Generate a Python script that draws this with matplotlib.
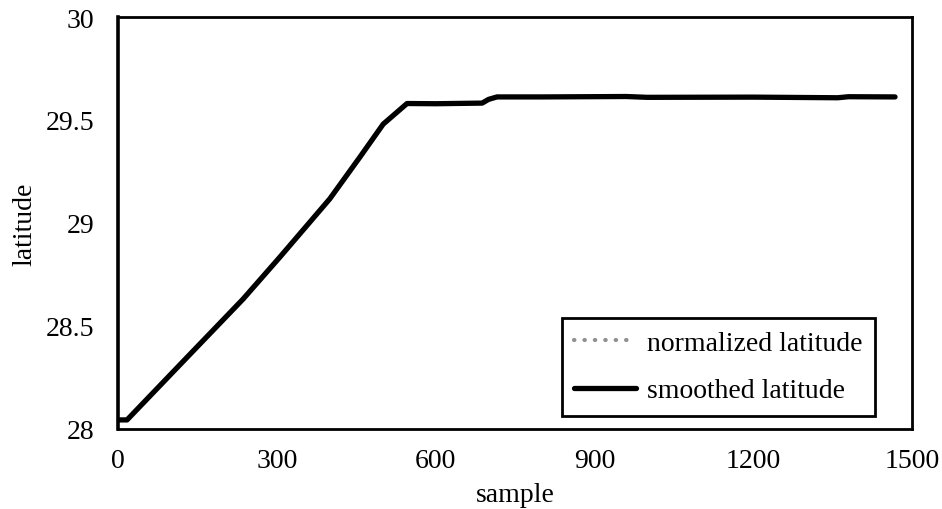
import matplotlib.pyplot as plt

# key points
sample = [0, 17, 120, 236, 306, 400, 457, 501, 546, 600, 688, 700, 716,
          800, 960, 1000, 1200, 1360, 1380, 1468]
latitude = [28.044, 28.044, 28.32, 28.63, 28.835, 29.117, 29.32, 29.48, 29.58,
            29.579, 29.582, 29.60, 29.612, 29.612, 29.614, 29.610, 29.611,
            29.608, 29.613, 29.612]

x_ticks = [0, 300, 600, 900, 1200, 1500]
y_ticks = [28, 28.5, 29, 29.5, 30]
y_labels = ['28', '28.5', '29', '29.5', '30']

plt.rcParams['font.family'] = ['Liberation Serif', 'DejaVu Serif']

fig = plt.figure(figsize=(9.42, 5.10), dpi=100)
ax = fig.add_axes([0.1253, 0.1569, 0.8428, 0.8078])

# normalized latitude sits underneath the smoothed one
ax.plot(sample, latitude, color='#909090', linestyle=(0, (0.1, 2.4)),
        dash_capstyle='round', linewidth=3.0, label='normalized latitude')
ax.plot(sample, latitude, color='black', linewidth=3.8,
        solid_capstyle='round', label='smoothed latitude')

ax.set_xlim(0, 1500)
ax.set_ylim(28, 30)
ax.set_xticks(x_ticks)
ax.set_yticks(y_ticks)
ax.set_yticklabels(y_labels)
ax.tick_params(axis='both', length=0, labelsize=20)
ax.tick_params(axis='x', pad=14)
ax.tick_params(axis='y', pad=17)

for sp in ax.spines.values():
    sp.set_linewidth(2)
    sp.set_color('black')
ax.spines['left'].set_linewidth(2.6)

ax.set_xlabel('sample', fontsize=20, labelpad=6)
ax.set_ylabel('latitude', fontsize=20, labelpad=6)

leg = ax.legend(loc='lower right', bbox_to_anchor=(0.953, 0.032),
                fontsize=20, frameon=True, fancybox=False, framealpha=1,
                handlelength=2.2, handletextpad=0.4, borderpad=0.45,
                labelspacing=0.8, borderaxespad=0)
leg.get_frame().set_edgecolor('black')
leg.get_frame().set_linewidth(2)

fig.savefig('out.png', dpi=100)
